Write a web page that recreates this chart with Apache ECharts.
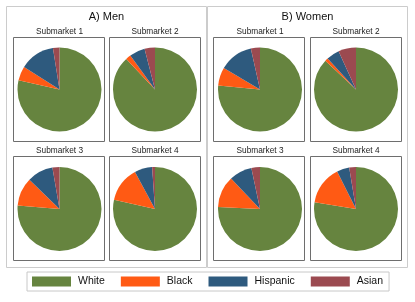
<!DOCTYPE html>
<html><head><meta charset="utf-8">
<script src="https://cdn.jsdelivr.net/npm/echarts@6/dist/echarts.min.js"></script>
<style>html,body{margin:0;padding:0;background:#fff}#c{width:415px;height:302px}</style>
</head><body><div id="c"></div>
<script>
const categories = ['White', 'Black', 'Hispanic', 'Asian'];
const panelTitles = ['A) Men', 'B) Women'];
const submarkets = ['Submarket 1', 'Submarket 2', 'Submarket 3', 'Submarket 4'];
const menSub1 = [78.5, 5.5, 13.5, 2.5];
const menSub2 = [88.0, 2.0, 6.0, 4.0];
const menSub3 = [76.3, 11.0, 10.0, 2.7];
const menSub4 = [78.5, 13.6, 6.8, 1.1];
const womenSub1 = [76.5, 7.0, 13.0, 3.5];
const womenSub2 = [87.0, 1.2, 5.0, 6.8];
const womenSub3 = [75.8, 12.1, 8.8, 3.3];
const womenSub4 = [77.6, 15.0, 4.8, 2.6];
const colors = ['#66843f', '#ff5a14', '#2e5a7e', '#9b4a50'];

const groups = [[menSub1, menSub2, menSub3, menSub4], [womenSub1, womenSub2, womenSub3, womenSub4]];
const panelX = [6.5, 207.5];
const colCenters = [[59.5, 155], [260, 356]];
const rowCenters = [89.5, 209];
const boxX = [[13.5, 109.5], [213.5, 310.5]];
const boxY = [37.5, 156.5];
const boxW = 91, boxH = 104;
const font = 'Liberation Sans, Arial, Helvetica, sans-serif';

const series = [], titles = [], graphics = [];
for (let p = 0; p < 2; p++) {
  graphics.push({type: 'rect', shape: {x: panelX[p], y: 6.5, width: 200, height: 261}, style: {fill: '#fff', stroke: '#cccccc', lineWidth: 1}, z: 0});
  titles.push({text: panelTitles[p], left: (panelX[p] + 100), top: 11, textAlign: 'center', padding: 0,
    textStyle: {fontFamily: font, fontSize: 11, fontWeight: 'normal', color: '#111'}});
  for (let s = 0; s < 4; s++) {
    const r = Math.floor(s / 2), c = s % 2;
    graphics.push({type: 'rect', shape: {x: boxX[p][c], y: boxY[r], width: boxW, height: boxH}, style: {fill: '#fff', stroke: '#6e6e6e', lineWidth: 1}, z: 1});
    titles.push({text: submarkets[s], left: colCenters[p][c], top: boxY[r] - 9.5, textAlign: 'center', padding: 0,
      textStyle: {fontFamily: font, fontSize: 8.3, fontWeight: 'normal', color: '#222'}});
    series.push({
      type: 'pie', center: [colCenters[p][c], rowCenters[r]], radius: [0, 42],
      startAngle: 90, clockwise: true, label: {show: false}, labelLine: {show: false},
      emphasis: {disabled: true}, silent: true, z: 5,
      itemStyle: {borderWidth: 0},
      data: categories.map((n, i) => ({name: n, value: groups[p][s][i]}))
    });
  }
}

const chart = echarts.init(document.getElementById('c'), null, {renderer: 'canvas'});
chart.setOption({
  animation: false,
  backgroundColor: '#fff',
  color: colors,
  title: titles,
  graphic: graphics,
  legend: {
    data: categories, left: 27, top: 272, orient: 'horizontal',
    icon: 'rect', itemWidth: 39, itemHeight: 10, itemGap: 16,
    padding: [4, 6, 4, 5], borderColor: '#c8c8c8', borderWidth: 1,
    selectedMode: false,
    textStyle: {fontFamily: font, fontSize: 10.5, color: '#111', padding: [0, 0, 0, 2]}
  },
  series: series
});
</script></body></html>
